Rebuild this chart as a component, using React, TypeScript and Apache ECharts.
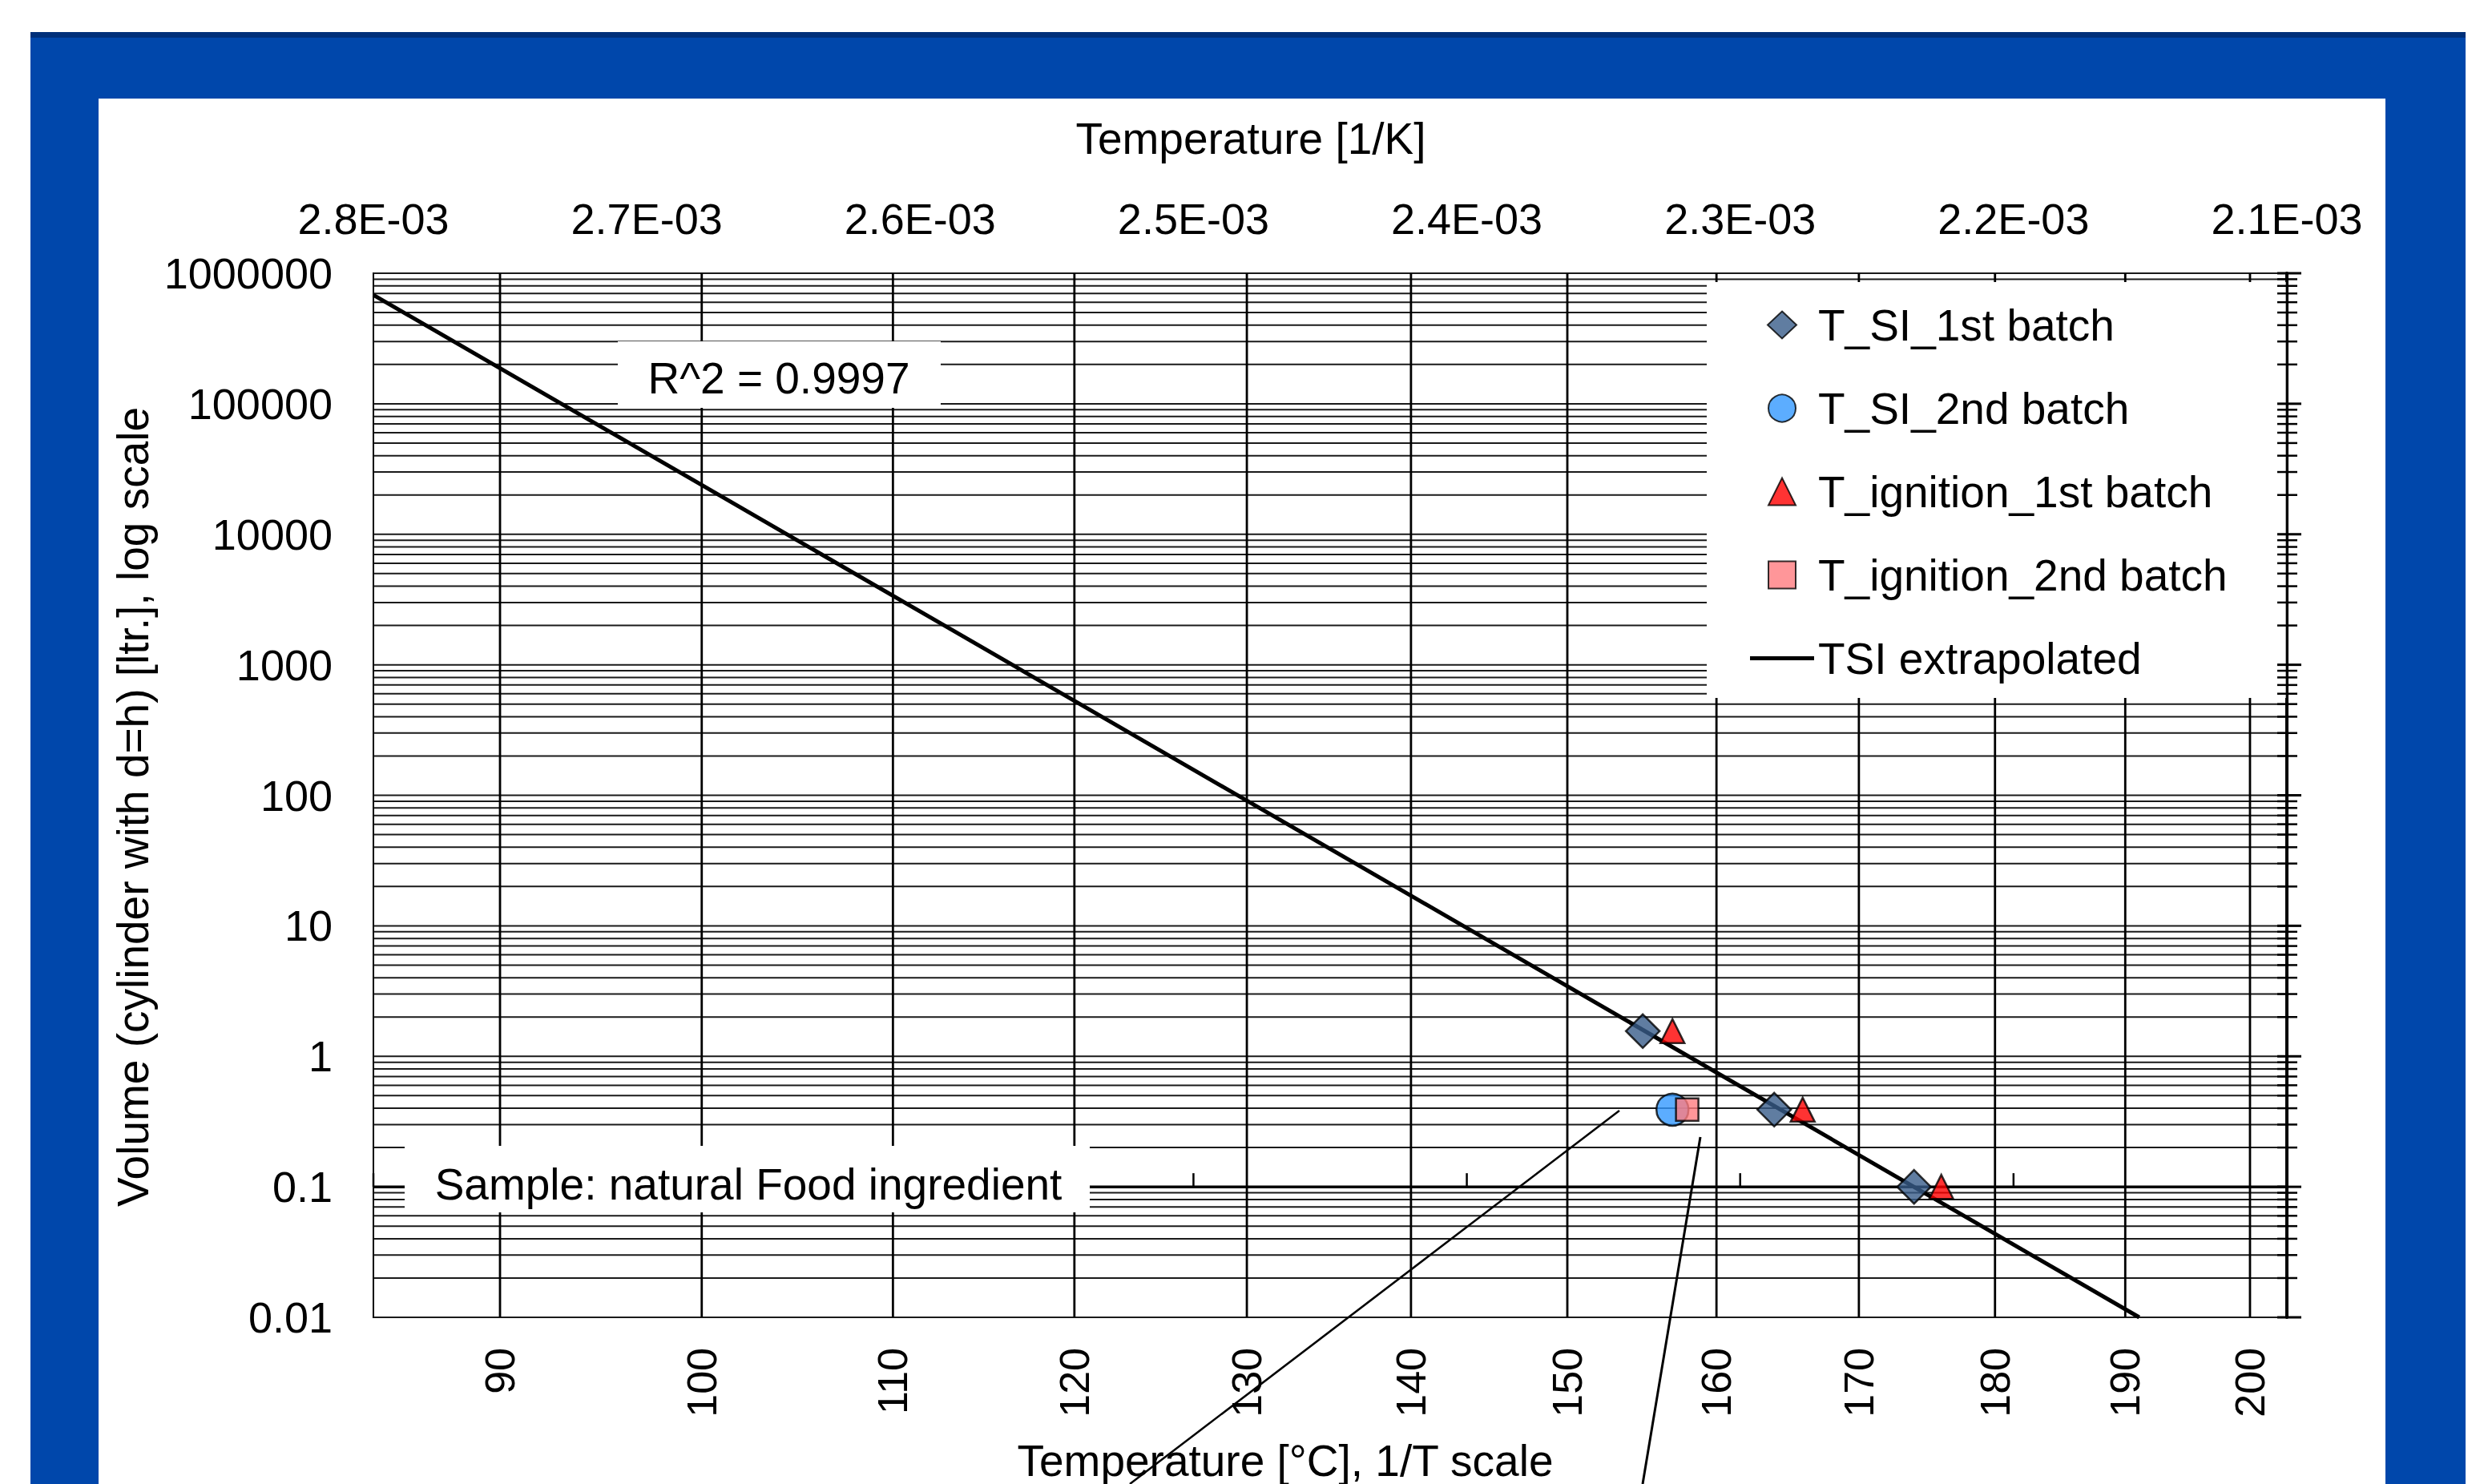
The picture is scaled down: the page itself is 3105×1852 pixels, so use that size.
import React, { useEffect, useRef } from "react";
import * as echarts from "echarts";

const FONT = "'Liberation Sans', Arial, Helvetica, sans-serif";
const KELVIN = 273.15;

// Axis structure
const invTempTicks = [0.0028, 0.0027, 0.0026, 0.0025, 0.0024, 0.0023, 0.0022, 0.0021];
const celsiusTicks = [90, 100, 110, 120, 130, 140, 150, 160, 170, 180, 190, 200];
const yDecades = [0.01, 0.1, 1, 10, 100, 1000, 10000, 100000, 1000000];
const yMinorSteps = [2, 3, 4, 5, 6, 7, 8, 9];

// Measured data (temperature in °C, volume in litres)
const siBatch1TempC = [155, 164, 174];
const siBatch1Volume = [1.56, 0.39, 0.1];
const siBatch2TempC = [157];
const siBatch2Volume = [0.39];
const ignBatch1TempC = [157, 166, 176];
const ignBatch1Volume = [1.56, 0.39, 0.1];
const ignBatch2TempC = [158];
const ignBatch2Volume = [0.39];

// Extrapolated TSI line end points (1/K, litres)
const fitInvTemp = [0.0028, 0.002154];
const fitVolume = [682000, 0.01];

const toInv = (c: number) => 1 / (c + KELVIN);
const pts = (temps: number[], vols: number[]) => temps.map((t, i) => [toInv(t), vols[i]]);

const hLines: number[] = [];
yDecades.forEach((d, i) => {
  hLines.push(d);
  if (i < yDecades.length - 1) yMinorSteps.forEach((m) => hLines.push(parseFloat((d * m).toPrecision(6))));
});
const isDecade = (v: number) => yDecades.some((d) => Math.abs(d - v) / d < 1e-6);

const fmtExp = (v: number) => {
  const [m, e] = v.toExponential(1).split("e");
  const n = parseInt(e, 10);
  return `${m}E${n < 0 ? "-" : "+"}${String(Math.abs(n)).padStart(2, "0")}`;
};
const fmtVol = (v: number) => (v >= 1 ? String(Math.round(v)) : String(parseFloat(v.toPrecision(3))));

// Legend icon shapes (unit aspect, fitted by the legend)
const ICON_DIAMOND = "path://M1.06,0L2.12,1L1.06,2L0,1Z";
const ICON_TRIANGLE = "path://M1,0L2,2L0,2Z";
const ICON_SQUARE = "path://M0,0L2,0L2,2L0,2Z";
const ICON_LINE = "path://M0,0L80,0L80,5L0,5Z";

function buildOption() {
  const scatterBase = {
    type: "scatter",
    xAxisIndex: 0,
    yAxisIndex: 0,
    z: 3,
    silent: true,
  };
  return {
    animation: false,
    textStyle: { fontFamily: FONT },
    graphic: [
      { type: "rect", z: -100, silent: true, shape: { x: 38, y: 40, width: 3039, height: 1830 }, style: { fill: "#0047AB" } },
      { type: "rect", z: -99, silent: true, shape: { x: 38, y: 40, width: 3039, height: 7 }, style: { fill: "#00307A" } },
      { type: "rect", z: -98, silent: true, shape: { x: 123, y: 123, width: 2854, height: 1760 }, style: { fill: "#ffffff" } },
      { type: "rect", z: 50, silent: true, shape: { x: 771, y: 426, width: 403, height: 83 }, style: { fill: "#ffffff" } },
      {
        type: "text", z: 51, silent: true, x: 972, y: 472,
        style: { text: "R^2 = 0.9997", fontSize: 55, fontFamily: FONT, fill: "#000", align: "center", verticalAlign: "middle" },
      },
      { type: "rect", z: 50, silent: true, shape: { x: 505, y: 1430, width: 855, height: 83 }, style: { fill: "#ffffff" } },
      {
        type: "text", z: 51, silent: true, x: 934, y: 1478,
        style: { text: "Sample: natural Food ingredient", fontSize: 55, fontFamily: FONT, fill: "#000", align: "center", verticalAlign: "middle" },
      },
      { type: "line", z: 52, silent: true, shape: { x1: 2021, y1: 1386, x2: 1410, y2: 1852 }, style: { stroke: "#000", lineWidth: 2.5 } },
      { type: "line", z: 52, silent: true, shape: { x1: 2122, y1: 1419, x2: 2050, y2: 1852 }, style: { stroke: "#000", lineWidth: 3 } },
    ],
    grid: {
      left: 466, top: 341, width: 2388, height: 1303,
      show: true, borderColor: "#000", borderWidth: 2, backgroundColor: "transparent",
      containLabel: false, outerBoundsMode: "none",
    },
    legend: {
      orient: "vertical",
      left: 2130,
      top: 352,
      padding: [26, 73, 22, 54],
      itemWidth: 80,
      itemHeight: 34,
      itemGap: 49,
      backgroundColor: "#ffffff",
      selectedMode: false,
      symbolKeepAspect: true,
      textStyle: { fontSize: 55, fontFamily: FONT, color: "#000", lineHeight: 54 },
      data: [
        { name: "T_SI_1st batch", icon: ICON_DIAMOND },
        { name: "T_SI_2nd batch", icon: "circle" },
        { name: "T_ignition_1st batch", icon: ICON_TRIANGLE },
        { name: "T_ignition_2nd batch", icon: ICON_SQUARE },
        { name: "TSI extrapolated", icon: ICON_LINE },
      ],
    },
    xAxis: [
      {
        type: "value", position: "top", min: 0.0021, max: 0.0028, interval: 0.0001, inverse: true,
        name: "Temperature [1/K]", nameLocation: "middle", nameGap: 141,
        nameTextStyle: { fontSize: 55, color: "#000", fontFamily: FONT, padding: [0, 198, 0, 0] },
        axisLine: { show: false }, axisTick: { show: false }, splitLine: { show: false },
        axisLabel: { fontSize: 54, color: "#000", margin: 41, fontFamily: FONT, formatter: fmtExp, customValues: invTempTicks },
      },
      {
        type: "value", position: "bottom", min: 0.0021, max: 0.0028, inverse: true,
        name: "Temperature [°C], 1/T scale", nameLocation: "middle", nameGap: 151,
        nameTextStyle: { fontSize: 55, color: "#000", fontFamily: FONT, padding: [0, 112, 0, 0] },
        axisLine: { show: false }, axisTick: { show: false }, splitLine: { show: false },
        axisLabel: {
          rotate: 90, fontSize: 52, color: "#000", margin: 38, fontFamily: FONT,
          customValues: celsiusTicks.map(toInv),
          formatter: (v: number) => String(Math.round(1 / v - KELVIN)),
        },
      },
    ],
    yAxis: [
      {
        type: "log", logBase: 10, min: 0.01, max: 1000000, splitNumber: 8, position: "left",
        name: "Volume (cylinder with d=h) [ltr.], log scale", nameLocation: "middle", nameGap: 262, nameRotate: 90,
        nameTextStyle: { fontSize: 55, color: "#000", fontFamily: FONT, padding: [0, 29, 0, 0] },
        axisLine: { show: false }, axisTick: { show: false }, splitLine: { show: false },
        minorTick: { show: false }, minorSplitLine: { show: false },
        axisLabel: { fontSize: 54, color: "#000", margin: 51, fontFamily: FONT, formatter: fmtVol },
      },
      {
        type: "log", logBase: 10, min: 0.01, max: 1000000, splitNumber: 8, position: "right",
        axisLine: { show: true, lineStyle: { color: "#000", width: 4 } },
        axisTick: { show: false }, axisLabel: { show: false }, splitLine: { show: false },
      },
    ],
    series: [
      {
        type: "custom", xAxisIndex: 0, yAxisIndex: 0, silent: true, clip: false, z: 1,
        data: hLines.map((v) => [0.0025, v]),
        renderItem: (params: any, api: any) => {
          const cs = params.coordSys;
          const v = api.value(1);
          const y = api.coord([api.value(0), v])[1];
          const axisLine = Math.abs(v - 0.1) < 1e-9;
          return {
            type: "line",
            shape: { x1: cs.x, y1: y, x2: cs.x + cs.width, y2: y },
            style: { stroke: axisLine ? "#000" : "#1a1a1a", lineWidth: axisLine ? 3.5 : 2 },
          };
        },
      },
      {
        type: "custom", xAxisIndex: 0, yAxisIndex: 0, silent: true, clip: false, z: 1,
        data: celsiusTicks.map((c) => [toInv(c), 1]),
        renderItem: (params: any, api: any) => {
          const cs = params.coordSys;
          const x = api.coord([api.value(0), api.value(1)])[0];
          return {
            type: "line",
            shape: { x1: x, y1: cs.y, x2: x, y2: cs.y + cs.height },
            style: { stroke: "#000", lineWidth: 2.8 },
          };
        },
      },
      {
        type: "custom", xAxisIndex: 0, yAxisIndex: 0, silent: true, clip: false, z: 5,
        data: hLines.map((v) => [0.0025, v]),
        renderItem: (params: any, api: any) => {
          const cs = params.coordSys;
          const v = api.value(1);
          const y = api.coord([api.value(0), v])[1];
          const x = cs.x + cs.width;
          const major = isDecade(v);
          return {
            type: "line",
            shape: { x1: x - 12, y1: y, x2: x + (major ? 18 : 13), y2: y },
            style: { stroke: "#000", lineWidth: major ? 3 : 2.5 },
          };
        },
      },
      {
        type: "custom", xAxisIndex: 0, yAxisIndex: 0, silent: true, clip: false, z: 1,
        data: invTempTicks.map((t) => [t, 0.1]),
        renderItem: (params: any, api: any) => {
          const p = api.coord([api.value(0), api.value(1)]);
          return {
            type: "line",
            shape: { x1: p[0], y1: p[1], x2: p[0], y2: p[1] - 17 },
            style: { stroke: "#000", lineWidth: 2.5 },
          };
        },
      },
      {
        type: "line", name: "TSI extrapolated", xAxisIndex: 0, yAxisIndex: 0, z: 2, silent: true,
        data: fitInvTemp.map((x, i) => [x, fitVolume[i]]),
        symbol: "none", showSymbol: false,
        lineStyle: { color: "#000", width: 5 },
        itemStyle: { color: "#000" },
      },
      {
        ...scatterBase, name: "T_SI_1st batch", symbol: "diamond", symbolSize: 42,
        data: pts(siBatch1TempC, siBatch1Volume),
        itemStyle: { color: "#385D8A", borderColor: "#000", borderWidth: 2.5 },
      },
      {
        ...scatterBase, name: "T_SI_2nd batch", symbol: "circle", symbolSize: 40,
        data: pts(siBatch2TempC, siBatch2Volume),
        itemStyle: { color: "#3399FF", borderColor: "#000", borderWidth: 2.5 },
      },
      {
        ...scatterBase, name: "T_ignition_1st batch", symbol: "triangle", symbolSize: 30,
        data: pts(ignBatch1TempC, ignBatch1Volume),
        itemStyle: { color: "#FF0000", borderColor: "#000", borderWidth: 2.5 },
      },
      {
        ...scatterBase, name: "T_ignition_2nd batch", symbol: "rect", symbolSize: 28,
        data: pts(ignBatch2TempC, ignBatch2Volume),
        itemStyle: { color: "#FF7C80", borderColor: "#000", borderWidth: 2.5 },
      },
    ],
  };
}

export default function App() {
  const ref = useRef<HTMLDivElement>(null);
  useEffect(() => {
    const el = ref.current;
    if (!el) return;
    const chart = echarts.init(el, null, { renderer: "svg" });
    chart.setOption(buildOption() as any);
    return () => chart.dispose();
  }, []);
  return (
    <div
      ref={ref}
      style={{ position: "fixed", left: 0, top: 0, width: 3105, height: 1852, background: "#ffffff" }}
    />
  );
}
